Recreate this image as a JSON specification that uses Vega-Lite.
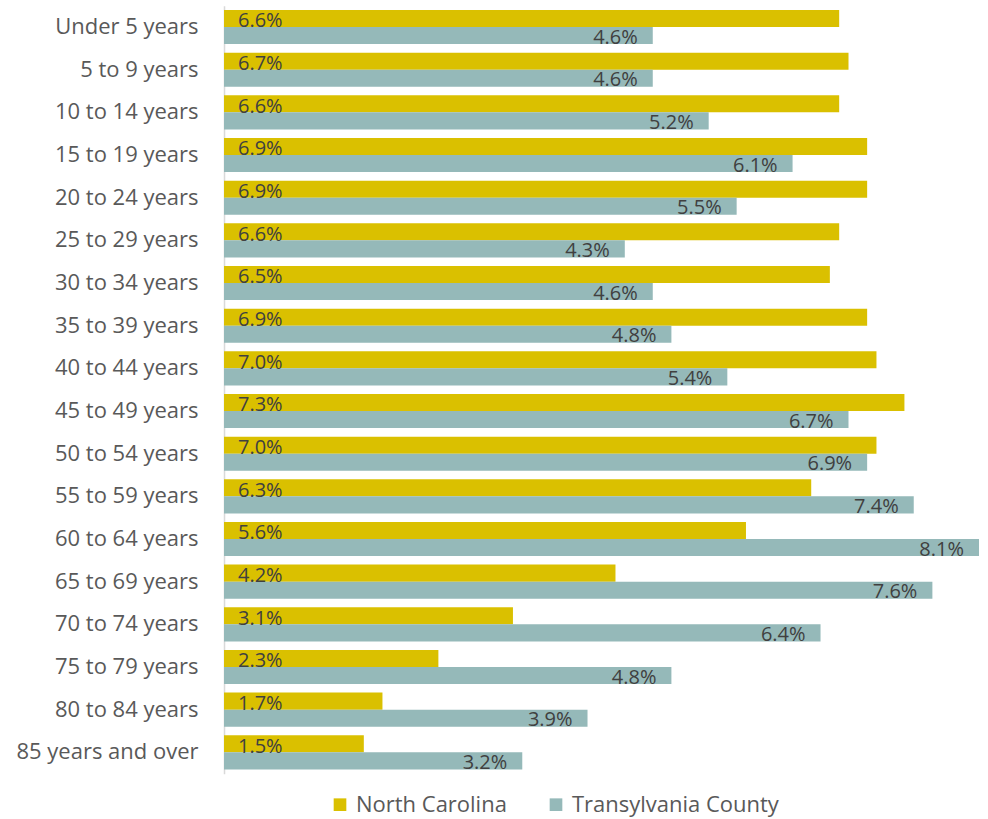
{
  "$schema": "https://vega.github.io/schema/vega-lite/v6.json",
  "width": 755,
  "height": 768,
  "autosize": {"type": "none"},
  "padding": {"left": 224, "top": 5.7, "right": 9, "bottom": 45},
  "background": "white",
  "config": {
    "view": {"stroke": null},
    "font": "Open Sans"
  },
  "data": {
    "values": [
      {"age": "Under 5 years", "series": "North Carolina", "value": 0.066},
      {"age": "Under 5 years", "series": "Transylvania County", "value": 0.046},
      {"age": "5 to 9 years", "series": "North Carolina", "value": 0.067},
      {"age": "5 to 9 years", "series": "Transylvania County", "value": 0.046},
      {"age": "10 to 14 years", "series": "North Carolina", "value": 0.066},
      {"age": "10 to 14 years", "series": "Transylvania County", "value": 0.052},
      {"age": "15 to 19 years", "series": "North Carolina", "value": 0.069},
      {"age": "15 to 19 years", "series": "Transylvania County", "value": 0.061},
      {"age": "20 to 24 years", "series": "North Carolina", "value": 0.069},
      {"age": "20 to 24 years", "series": "Transylvania County", "value": 0.055},
      {"age": "25 to 29 years", "series": "North Carolina", "value": 0.066},
      {"age": "25 to 29 years", "series": "Transylvania County", "value": 0.043},
      {"age": "30 to 34 years", "series": "North Carolina", "value": 0.065},
      {"age": "30 to 34 years", "series": "Transylvania County", "value": 0.046},
      {"age": "35 to 39 years", "series": "North Carolina", "value": 0.069},
      {"age": "35 to 39 years", "series": "Transylvania County", "value": 0.048},
      {"age": "40 to 44 years", "series": "North Carolina", "value": 0.070},
      {"age": "40 to 44 years", "series": "Transylvania County", "value": 0.054},
      {"age": "45 to 49 years", "series": "North Carolina", "value": 0.073},
      {"age": "45 to 49 years", "series": "Transylvania County", "value": 0.067},
      {"age": "50 to 54 years", "series": "North Carolina", "value": 0.070},
      {"age": "50 to 54 years", "series": "Transylvania County", "value": 0.069},
      {"age": "55 to 59 years", "series": "North Carolina", "value": 0.063},
      {"age": "55 to 59 years", "series": "Transylvania County", "value": 0.074},
      {"age": "60 to 64 years", "series": "North Carolina", "value": 0.056},
      {"age": "60 to 64 years", "series": "Transylvania County", "value": 0.081},
      {"age": "65 to 69 years", "series": "North Carolina", "value": 0.042},
      {"age": "65 to 69 years", "series": "Transylvania County", "value": 0.076},
      {"age": "70 to 74 years", "series": "North Carolina", "value": 0.031},
      {"age": "70 to 74 years", "series": "Transylvania County", "value": 0.064},
      {"age": "75 to 79 years", "series": "North Carolina", "value": 0.023},
      {"age": "75 to 79 years", "series": "Transylvania County", "value": 0.048},
      {"age": "80 to 84 years", "series": "North Carolina", "value": 0.017},
      {"age": "80 to 84 years", "series": "Transylvania County", "value": 0.039},
      {"age": "85 years and over", "series": "North Carolina", "value": 0.015},
      {"age": "85 years and over", "series": "Transylvania County", "value": 0.032}
    ]
  },
  "encoding": {
    "y": {
      "field": "age",
      "type": "nominal",
      "sort": null,
      "scale": {"paddingInner": 0.2, "paddingOuter": 0.1},
      "axis": {
        "title": null,
        "ticks": false,
        "domain": true,
        "domainColor": "#D9D9D9",
        "domainWidth": 1.5,
        "labelFont": "Open Sans",
        "labelFontSize": 22,
        "labelColor": "#595959",
        "labelPadding": 26,
        "labelLimit": 300
      }
    },
    "yOffset": {"field": "series", "type": "nominal", "sort": ["North Carolina", "Transylvania County"], "scale": {"paddingInner": 0, "paddingOuter": 0}},
    "x": {
      "field": "value",
      "type": "quantitative",
      "scale": {"domain": [0, 0.081], "nice": false},
      "axis": null
    }
  },
  "layer": [
    {
      "mark": {"type": "bar"},
      "encoding": {
        "color": {
          "field": "series",
          "type": "nominal",
          "scale": {"domain": ["North Carolina", "Transylvania County"], "range": ["#DAC000", "#95B9B9"]},
          "legend": {
            "title": null,
            "orient": "none",
            "direction": "horizontal",
            "legendX": 105,
            "legendY": 788,
            "symbolType": "square",
            "symbolSize": 160,
            "symbolStrokeWidth": 0,
            "labelFont": "Open Sans",
            "labelFontSize": 22,
            "labelColor": "#595959",
            "labelOffset": 5,
            "labelLimit": 400,
            "columnPadding": 38
          }
        }
      }
    },
    {
      "transform": [{"filter": "datum.series === 'North Carolina'"}],
      "mark": {"type": "text", "align": "left", "baseline": "middle", "dx": 14, "dy": 3, "fontSize": 20, "color": "#404040", "font": "Open Sans"},
      "encoding": {
        "x": {"datum": 0},
        "text": {"field": "value", "type": "quantitative", "format": ".1%"}
      }
    },
    {
      "transform": [{"filter": "datum.series === 'Transylvania County'"}],
      "mark": {"type": "text", "align": "right", "baseline": "middle", "dx": -15, "dy": 2, "fontSize": 20, "color": "#404040", "font": "Open Sans"},
      "encoding": {
        "text": {"field": "value", "type": "quantitative", "format": ".1%"}
      }
    }
  ]
}
